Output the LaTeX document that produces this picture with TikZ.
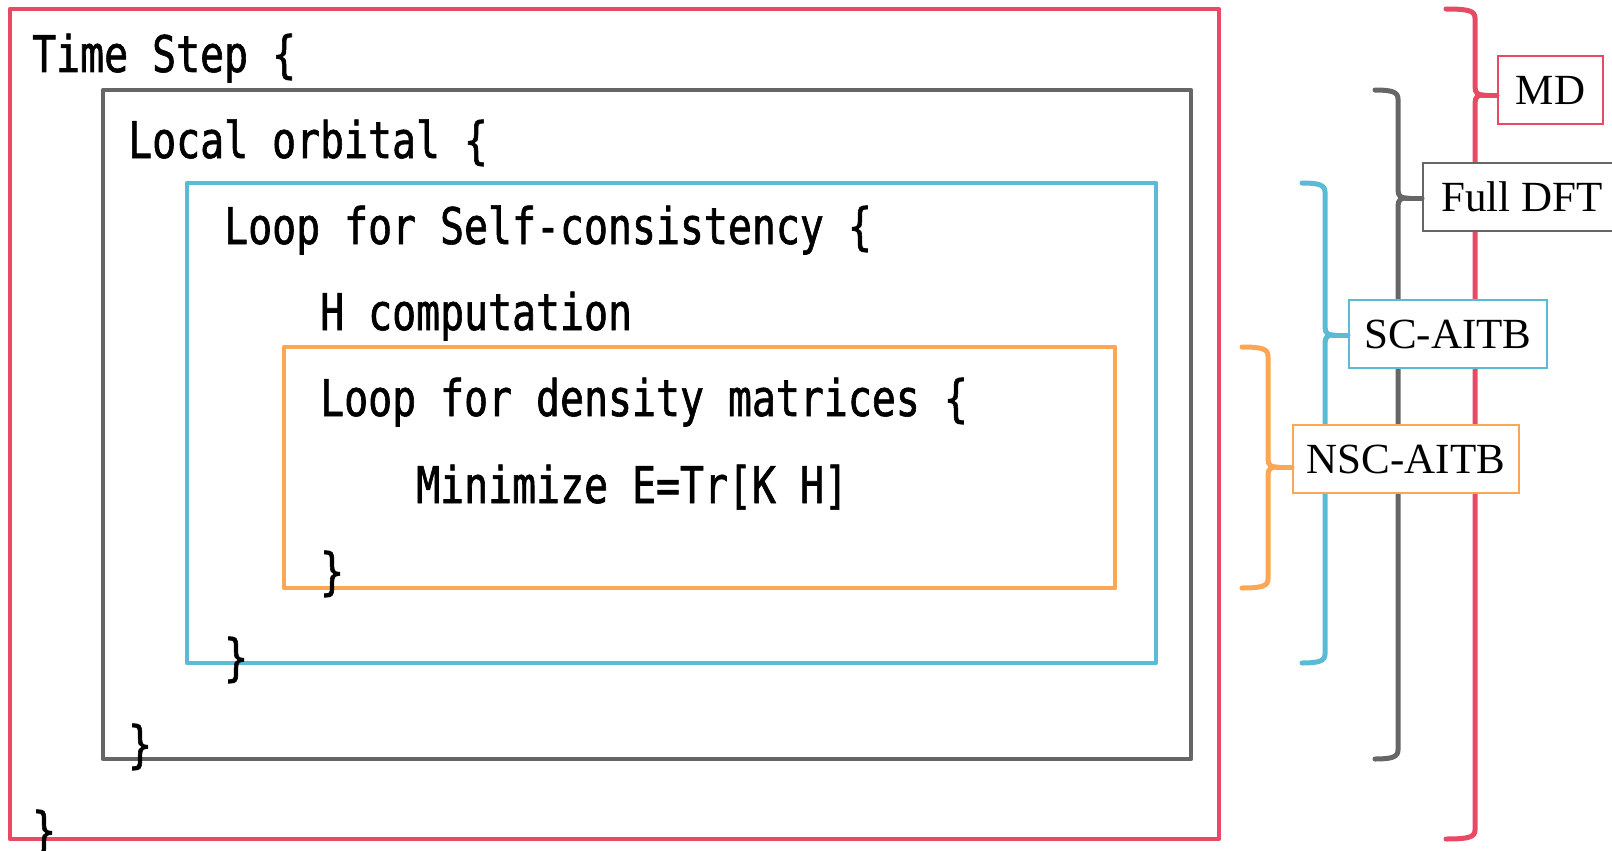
\documentclass[tikz,border=0pt]{standalone}
\usepackage{fontspec}
\newfontfamily\codefont{DejaVu Sans Mono}[FakeStretch=0.789, FakeBold=1.2]
\newfontfamily\labelfont{Liberation Serif}
\definecolor{cred}{RGB}{232,74,102}
\definecolor{cgray}{RGB}{102,102,102}
\definecolor{cblue}{RGB}{91,186,213}
\definecolor{corange}{RGB}{251,167,85}
\newcommand\mybrace[6]{%
  \draw[#1] (#2,#4) .. controls ({#3-6},#4) and (#3,{#4+2}) .. (#3,{#4+9})
    -- (#3,{#5-8}) .. controls (#3,{#5-2}) and ({#3+3},#5) .. ({#3+8},#5)
    .. controls ({#3+3},#5) and (#3,{#5+2}) .. (#3,{#5+8})
    -- (#3,{#6-9}) .. controls (#3,{#6-2}) and ({#3-6},#6) .. (#2,#6);}
\tikzset{
  codeline/.style={anchor=base west, inner sep=0pt, font=\codefont\fontsize{50.5}{60}\selectfont},
  framebox/.style={line width=4.5pt, line join=round},
  bracestyle/.style={line width=5pt, line cap=round},
  labelbox/.style={draw, fill=white, line width=2pt, inner sep=0pt, minimum height=68pt,
     font=\labelfont\fontsize{43}{50}\selectfont, text=black},
}
\begin{document}
\begin{tikzpicture}[x=1pt,y=-1pt]
\useasboundingbox (0,0) rectangle (1612,851);
% frames
\draw[framebox, cred] (10,9) rectangle (1219,839);
\draw[framebox, cgray] (103,90) rectangle (1191,759);
\draw[framebox, cblue] (187,183) rectangle (1156,663);
\draw[framebox, corange] (284,347) rectangle (1115,588);
% code text
\node[codeline] (l0) at (32,72) {Time Step \{};
\node[codeline] (l1) at (128,158) {Local orbital \{};
\node[codeline] (l2) at (224,244) {Loop for Self-consistency \{};
\node[codeline] (l3) at (320,330) {H computation};
\node[codeline] (l4) at (320,416) {Loop for density matrices \{};
\node[codeline] (l5) at (416,503) {Minimize E=Tr[K H]};
\node[codeline] (l6) at (320,589) {\}};
\node[codeline] (l7) at (224,675) {\}};
\node[codeline] (l8) at (128,762) {\}};
\node[codeline] (l9) at (32,848) {\}};
% braces
\mybrace{bracestyle, cred}{1446}{1475}{9}{95}{839}
\mybrace{bracestyle, cgray}{1375}{1398}{90}{198}{759}
\mybrace{bracestyle, cblue}{1302}{1325}{183}{335}{663}
\mybrace{bracestyle, corange}{1242}{1268}{347}{467}{588}
% labels
\node[labelbox, draw=cred, minimum width=105pt] (md) at (1550.5,90) {MD};
\node[labelbox, draw=cgray, minimum width=198pt] (dft) at (1522,197) {Full DFT};
\node[labelbox, draw=cblue, minimum width=198pt] (sc) at (1448,334) {SC-AITB};
\node[labelbox, draw=corange, minimum width=226pt] (nsc) at (1406,459) {NSC-AITB};
% stubs
\coordinate (mdtip) at (1483,95);
\coordinate (dfttip) at (1406,198);
\coordinate (sctip) at (1333,335);
\coordinate (nsctip) at (1276,467);
\draw[bracestyle, cred] (mdtip) -- (mdtip -| md.west);
\draw[bracestyle, cgray] (dfttip) -- (dfttip -| dft.west);
\draw[bracestyle, cblue] (sctip) -- (sctip -| sc.west);
\draw[bracestyle, corange] (nsctip) -- (nsctip -| nsc.west);
\end{tikzpicture}
\end{document}
